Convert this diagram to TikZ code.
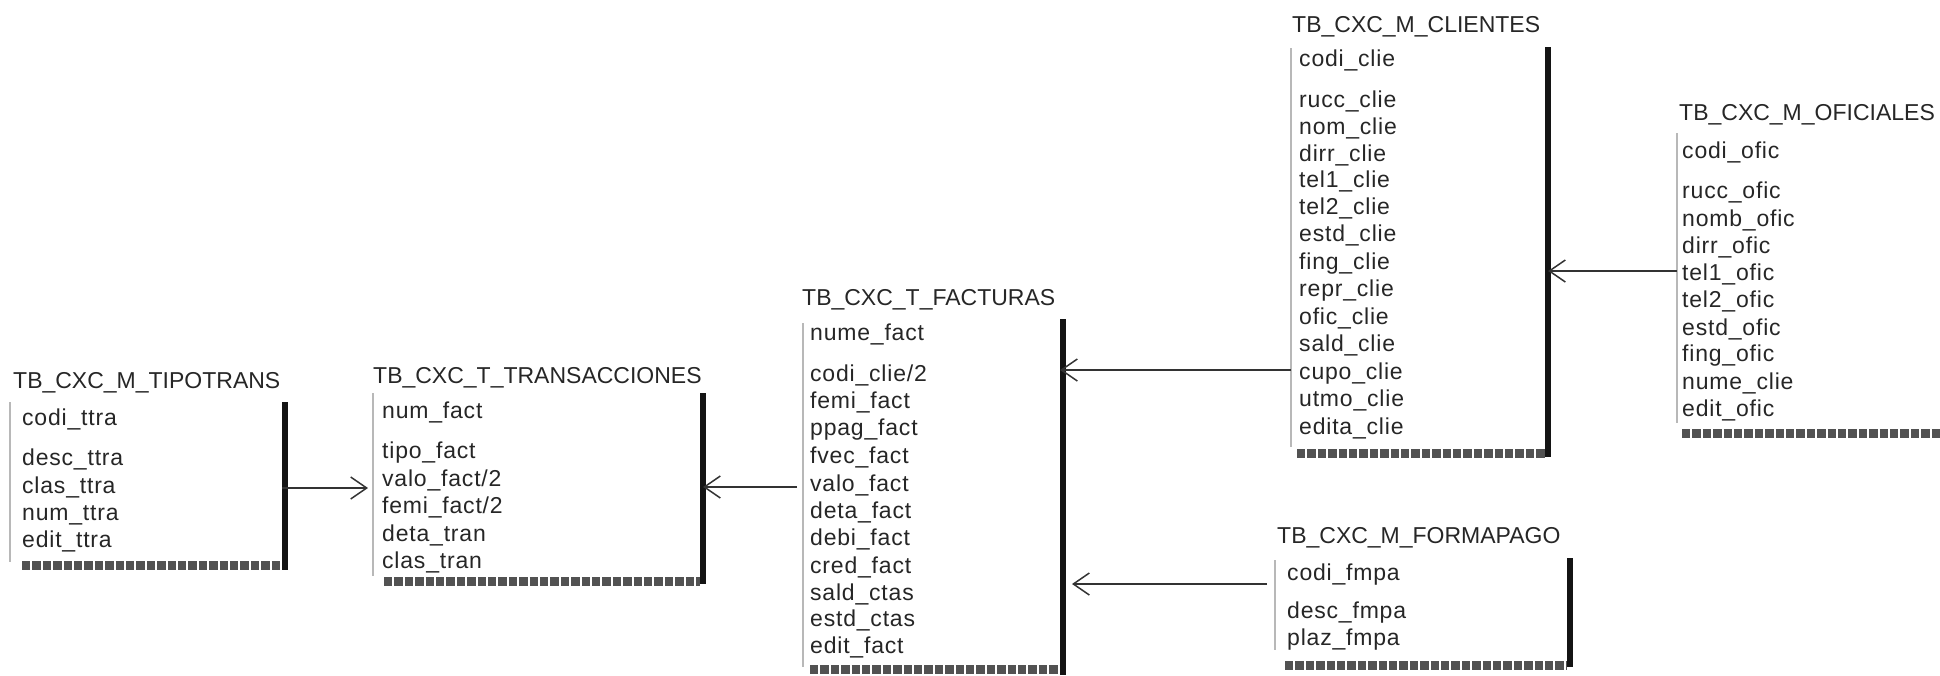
\documentclass[tikz,border=0pt]{standalone}
\usepackage{fontspec}
\setmainfont{Liberation Sans}
\newfontfamily\fieldfont[LetterSpace=3.5]{Liberation Sans}
\usetikzlibrary{arrows.meta}
\tikzset{
  txt/.style={anchor=base west, inner sep=0pt, font=\fontsize{23}{27}\selectfont, text=black!85},
  fld/.style={txt, font=\fieldfont\fontsize{23}{27}\selectfont},
  frm/.style={inner sep=0pt, outer sep=0pt, anchor=north west},
  leftln/.style={draw=black!28, line width=1.2pt},
  thk/.style={draw=black!92, line width=6pt},
  hatch/.style={draw=black!68, line width=9pt, dash pattern=on 8.4pt off 2pt},
  conn/.style={draw=black!80, line width=1.5pt, -{Straight Barb[length=16pt,width=22pt,line width=1.5pt]}}
}
\begin{document}
\begin{tikzpicture}[x=1pt,y=-1pt]
\useasboundingbox (0,0) rectangle (1940,675);

% ---------- TB_CXC_M_TIPOTRANS
\node[txt] (tpT) at (13,388) {TB\_CXC\_M\_TIPOTRANS};
\node[frm, minimum width=275pt, minimum height=168pt] (tp) at (10,402) {};
\foreach \t/\y [count=\i] in {{codi\_ttra}/425, {desc\_ttra}/465, {clas\_ttra}/493, {num\_ttra}/520, {edit\_ttra}/547}
  \node[fld, name=tp\i] at (22,\y) {\t};
\draw[leftln] (10,402) -- (10,562);
\draw[hatch] (22,565) -- (282,565);
\draw[thk] (285,402) -- (285,570);

% ---------- TB_CXC_T_TRANSACCIONES
\node[txt] (trT) at (373,383) {TB\_CXC\_T\_TRANSACCIONES};
\node[frm, minimum width=330pt, minimum height=191pt] (tr) at (373,393) {};
\foreach \t/\y [count=\i] in {{num\_fact}/418, {tipo\_fact}/458, {valo\_fact/2}/486, {femi\_fact/2}/513, {deta\_tran}/541, {clas\_tran}/568}
  \node[fld, name=tr\i] at (382,\y) {\t};
\draw[leftln] (373,393) -- (373,576);
\draw[hatch] (384,581) -- (700,581);
\draw[thk] (703,393) -- (703,584);

% ---------- TB_CXC_T_FACTURAS
\node[txt] (faT) at (802,305) {TB\_CXC\_T\_FACTURAS};
\node[frm, minimum width=260pt, minimum height=356pt] (fa) at (803,319) {};
\foreach \t/\y [count=\i] in {{nume\_fact}/340, {codi\_clie/2}/381, {femi\_fact}/408, {ppag\_fact}/435, {fvec\_fact}/463, {valo\_fact}/491, {deta\_fact}/518, {debi\_fact}/545, {cred\_fact}/573, {sald\_ctas}/600, {estd\_ctas}/626, {edit\_fact}/653}
  \node[fld, name=fa\i] at (810,\y) {\t};
\draw[leftln] (803,323) -- (803,667);
\draw[hatch] (810,669) -- (1060,669);
\draw[thk] (1063,319) -- (1063,675);

% ---------- TB_CXC_M_CLIENTES
\node[txt] (clT) at (1292,32) {TB\_CXC\_M\_CLIENTES};
\node[frm, minimum width=257pt, minimum height=410pt] (cl) at (1291,47) {};
\foreach \t/\y [count=\i] in {{codi\_clie}/66, {rucc\_clie}/107, {nom\_clie}/134, {dirr\_clie}/161, {tel1\_clie}/187, {tel2\_clie}/214, {estd\_clie}/241, {fing\_clie}/269, {repr\_clie}/296, {ofic\_clie}/324, {sald\_clie}/351, {cupo\_clie}/379, {utmo\_clie}/406, {edita\_clie}/434}
  \node[fld, name=cl\i] at (1299,\y) {\t};
\draw[leftln] (1291,48) -- (1291,447);
\draw[hatch] (1297,453) -- (1545,453);
\draw[thk] (1548,47) -- (1548,457);

% ---------- TB_CXC_M_OFICIALES
\node[txt] (ofT) at (1679,120) {TB\_CXC\_M\_OFICIALES};
\node[frm, minimum width=263pt, minimum height=305pt] (of) at (1677,133) {};
\foreach \t/\y [count=\i] in {{codi\_ofic}/158, {rucc\_ofic}/198, {nomb\_ofic}/226, {dirr\_ofic}/253, {tel1\_ofic}/280, {tel2\_ofic}/307, {estd\_ofic}/335, {fing\_ofic}/361, {nume\_clie}/389, {edit\_ofic}/416}
  \node[fld, name=of\i] at (1682,\y) {\t};
\draw[leftln] (1677,133) -- (1677,423);
\draw[hatch] (1682,433) -- (1940,433);

% ---------- TB_CXC_M_FORMAPAGO
\node[txt] (fmT) at (1277,543) {TB\_CXC\_M\_FORMAPAGO};
\node[frm, minimum width=295pt, minimum height=109pt] (fm) at (1275,558) {};
\foreach \t/\y [count=\i] in {{codi\_fmpa}/580, {desc\_fmpa}/618, {plaz\_fmpa}/645}
  \node[fld, name=fm\i] at (1287,\y) {\t};
\draw[leftln] (1275,560) -- (1275,650);
\draw[hatch] (1285,665) -- (1567,665);
\draw[thk] (1570,558) -- (1570,667);

% ---------- connectors
\draw[conn] ([xshift=-3pt]tp.east |- 0,488) -- ([xshift=-5pt]tr.west |- 0,488);
\draw[conn] ([xshift=-6pt]fa.west |- 0,487) -- (tr.east |- 0,487);
\draw[conn] (cl.west |- 0,370) -- ([xshift=-3pt]fa.east |- 0,370);
\draw[conn] ([xshift=-8pt]fm.west |- 0,584) -- ([xshift=9pt]fa.east |- 0,584);
\draw[conn] (of.west |- 0,271) -- (cl.east |- 0,271);
\end{tikzpicture}
\end{document}
